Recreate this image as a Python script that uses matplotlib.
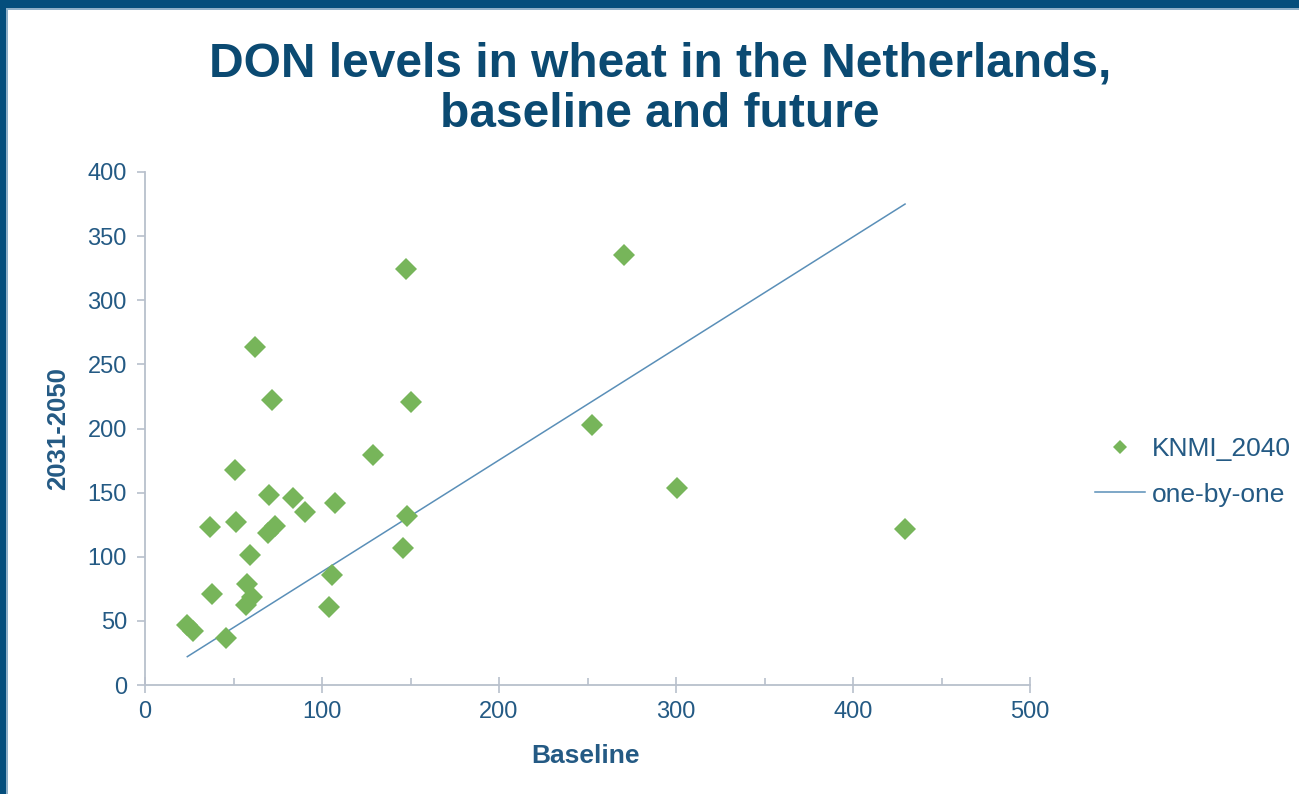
import numpy as np
import matplotlib
matplotlib.use('Agg')
import matplotlib.pyplot as plt
from matplotlib.patches import Rectangle
from matplotlib.ticker import MultipleLocator

plt.rcParams['font.family'] = ['Liberation Sans', 'DejaVu Sans']

# DON (ug/kg): baseline vs. 2031-2050 scenario
baseline = [147.5, 270.6, 62.0, 71.8, 150.5, 50.8, 128.7, 252.6, 300.5, 429.4,
            70.1, 83.8, 90.4, 107.2, 36.7, 51.2, 73.4, 69.5, 148.2, 59.3,
            145.9, 105.5, 104.1, 37.7, 57.8, 60.2, 57.1, 23.9, 27.2, 45.5]
knmi_2040 = [324.5, 335.3, 263.4, 222.5, 220.5, 167.3, 179.6, 202.4, 153.7, 121.6,
             148.0, 146.0, 135.1, 141.6, 123.0, 126.8, 124.0, 118.5, 131.8, 101.4,
             106.6, 85.8, 60.5, 70.8, 78.9, 68.9, 62.4, 46.8, 42.3, 36.6]
line_x = [23.9, 429.4]
line_y = [22.1, 375.0]

TITLE_C = '#0b4a72'
TEXT_C = '#245a84'
AXIS_C = '#b8c0cc'

fig = plt.figure(figsize=(12.99, 7.94), dpi=100)

# slide frame: dark band on top and left
fig.patches.append(Rectangle((0, 1 - 8/794), 1, 8/794, transform=fig.transFigure,
                             facecolor='#044e7c', edgecolor='none', zorder=0))
fig.patches.append(Rectangle((0, 1 - 10/794), 1, 2/794, transform=fig.transFigure,
                             facecolor='#8fb0c8', edgecolor='none', zorder=0))
fig.patches.append(Rectangle((0, 0), 6/1299, 1, transform=fig.transFigure,
                             facecolor='#044e7c', edgecolor='none', zorder=0))
fig.patches.append(Rectangle((6/1299, 0), 2/1299, 1 - 8/794, transform=fig.transFigure,
                             facecolor='#8fb0c8', edgecolor='none', zorder=0))

ax = fig.add_axes([145/1299, 1 - 685/794, 885/1299, 513/794])

ax.plot(baseline, knmi_2040, linestyle='none', marker='D', markersize=11.5,
        color='#77b55a', markeredgewidth=0, label='KNMI_2040', zorder=3)
ax.plot(line_x, line_y, color='#5a8fb8', linewidth=1.1, label='one-by-one', zorder=2)

ax.set_xlim(0, 500)
ax.set_ylim(0, 400)
ax.xaxis.set_major_locator(MultipleLocator(100))
ax.xaxis.set_minor_locator(MultipleLocator(50))
ax.yaxis.set_major_locator(MultipleLocator(50))

for s in ['top', 'right']:
    ax.spines[s].set_visible(False)
for s in ['left', 'bottom']:
    ax.spines[s].set_color(AXIS_C)
    ax.spines[s].set_linewidth(1.3)

ax.tick_params(axis='x', which='major', direction='inout', length=11, width=1.2,
               color=AXIS_C, labelsize=17, labelcolor=TEXT_C, pad=6)
ax.tick_params(axis='x', which='minor', direction='in', length=5, width=1.2, color=AXIS_C)
ax.tick_params(axis='y', which='major', direction='out', length=6, width=1.2,
               color=AXIS_C, labelsize=17, labelcolor=TEXT_C, pad=7)

ax.set_xlabel('Baseline', fontsize=19, fontweight='bold', color=TEXT_C)
ax.set_ylabel('2031-2050', fontsize=18.5, fontweight='bold', color=TEXT_C)
ax.xaxis.set_label_coords(0.498, -0.115)
ax.yaxis.set_label_coords(-0.085, 0.5)

fig.text(0.508, 0.948, 'DON levels in wheat in the Netherlands,\nbaseline and future',
         ha='center', va='top', fontsize=34.5, fontweight='bold', color=TITLE_C,
         linespacing=1.15)

leg = fig.legend(loc='center left', bbox_to_anchor=(1071/1299, 1 - 472/794),
                 frameon=False, fontsize=19, markerscale=0.6, handlelength=1.9,
                 handletextpad=0.25, labelspacing=0.8)
for t in leg.get_texts():
    t.set_color(TEXT_C)

fig.savefig('out.png', dpi=100)
